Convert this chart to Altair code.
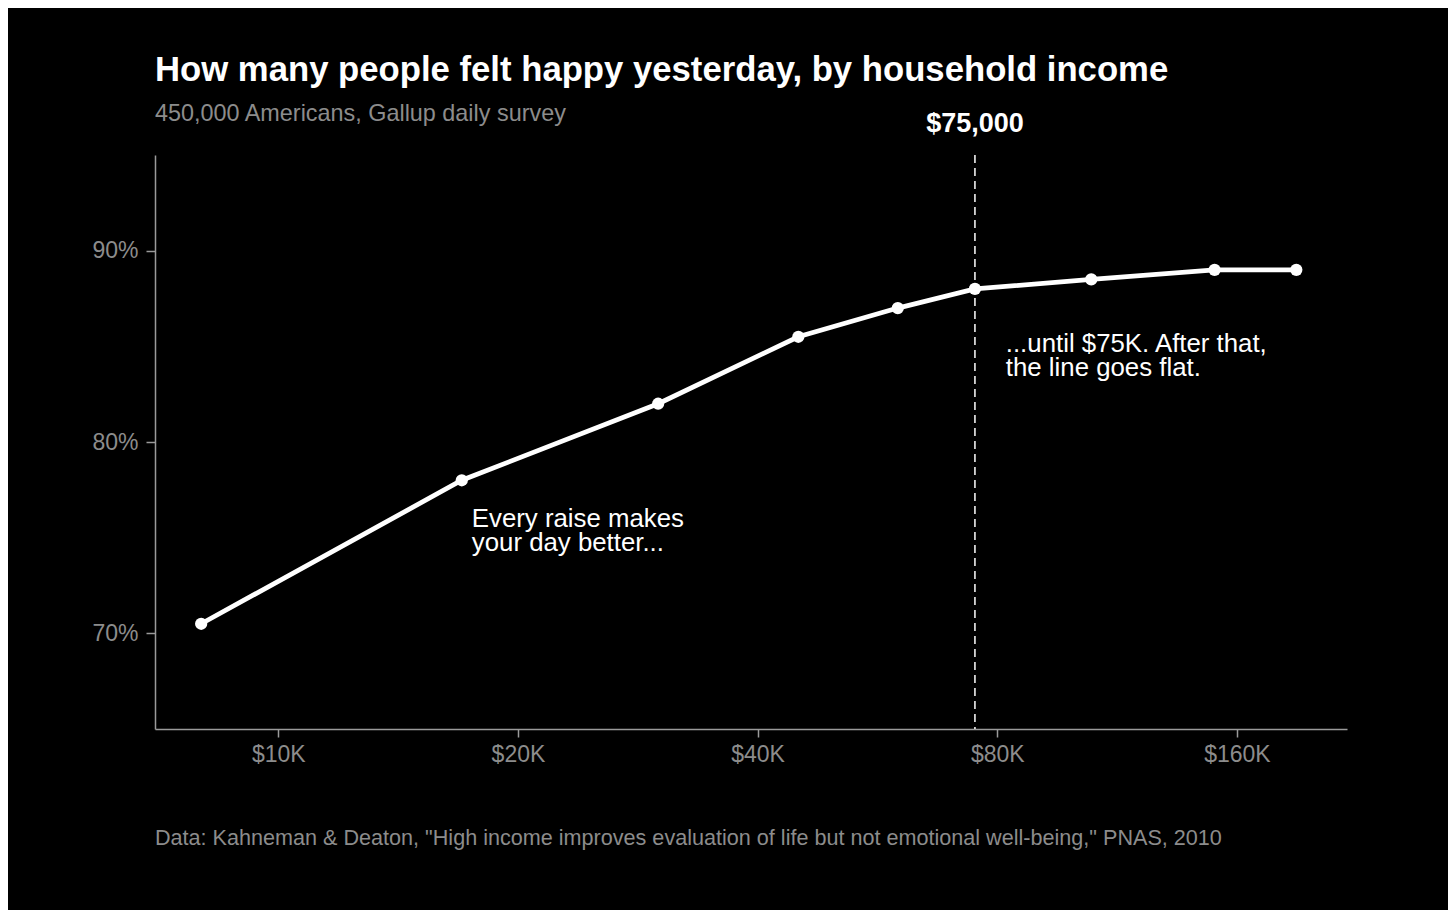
import altair as alt
import pandas as pd

# ---- data ----
income = [8000, 17000, 30000, 45000, 60000, 75000, 105000, 150000, 190000]
happy_pct = [70.5, 78.0, 82.0, 85.5, 87.0, 88.0, 88.5, 89.0, 89.0]

x_tick_values = [10000, 20000, 40000, 80000, 160000]
y_tick_values = [70, 80, 90]

threshold_income = [75000]
threshold_label = ["$75,000"]

note_income = [17500, 82000]
note_pct = [75.55, 84.7]
note_text = ["Every raise makes\nyour day better...",
             "...until $75K. After that,\nthe line goes flat."]

title_text = "How many people felt happy yesterday, by household income"
subtitle_text = "450,000 Americans, Gallup daily survey"
footer_text = ['Data: Kahneman & Deaton, "High income improves evaluation of life but not emotional well-being," PNAS, 2010']

FONT = "Liberation Sans"
GRAY = "#8c8c8c"
AXIS_GRAY = "#9a9a9a"

df = pd.DataFrame({"income": income, "pct": happy_pct})
thr = pd.DataFrame({"income": threshold_income, "label": threshold_label})
notes = pd.DataFrame({"income": note_income, "pct": note_pct, "text": note_text})
foot = pd.DataFrame({"text": footer_text})

xscale = alt.Scale(type="log", domain=[7000, 220000], nice=False)
yscale = alt.Scale(domain=[65, 95], nice=False, zero=False)

xaxis = alt.Axis(values=x_tick_values, labelExpr="'$' + datum.value/1000 + 'K'",
                 title=None, grid=False, tickSize=8, labelPadding=6)
yaxis = alt.Axis(values=y_tick_values, labelExpr="datum.value + '%'",
                 title=None, grid=False, tickSize=9, labelPadding=8)

base = alt.Chart(df).encode(
    x=alt.X("income:Q", scale=xscale, axis=xaxis),
    y=alt.Y("pct:Q", scale=yscale, axis=yaxis),
)

line = base.mark_line(color="white", strokeWidth=4.8)
points = base.mark_circle(color="white", size=150, opacity=1)

rule = alt.Chart(thr).mark_rule(color="white", strokeDash=[8, 5], strokeWidth=1.5).encode(
    x=alt.X("income:Q", scale=xscale)
)

rule_label = alt.Chart(thr).mark_text(
    font=FONT, fontSize=27, fontWeight="bold", color="white", align="center",
    baseline="alphabetic"
).encode(
    x=alt.X("income:Q", scale=xscale),
    y=alt.value(-23),
    text="label:N",
)

note_marks = alt.Chart(notes).mark_text(
    font=FONT, fontSize=25.8, color="white", align="left", baseline="alphabetic",
    lineBreak="\n", lineHeight=24
).encode(
    x=alt.X("income:Q", scale=xscale),
    y=alt.Y("pct:Q", scale=yscale),
    text="text:N",
)

footer = alt.Chart(foot).mark_text(
    font=FONT, fontSize=21.6, color=GRAY, align="left", baseline="alphabetic"
).encode(
    x=alt.value(0),
    y=alt.value(690),
    text="text:N",
)

chart = alt.layer(line, points, rule, rule_label, note_marks, footer).properties(
    width=1192,
    height=574,
    padding={"left": 147, "top": 147, "right": 101, "bottom": 181},
    autosize=alt.AutoSizeParams(type="none"),
    background="black",
    title=alt.Title(
        text=title_text,
        subtitle=subtitle_text,
        anchor="start",
        frame="group",
        font=FONT,
        fontSize=34.7,
        fontWeight="bold",
        color="white",
        subtitleFont=FONT,
        subtitleFontSize=23.4,
        subtitleColor=GRAY,
        subtitlePadding=14,
        offset=-16,
    ),
).configure_view(stroke=None).configure_axis(
    labelFont=FONT,
    labelFontSize=23,
    labelColor=GRAY,
    domainColor=AXIS_GRAY,
    tickColor=AXIS_GRAY,
    domainWidth=1.5,
    tickWidth=1.5,
)

chart.save("out.html", embed_options={"renderer": "svg", "actions": False})
